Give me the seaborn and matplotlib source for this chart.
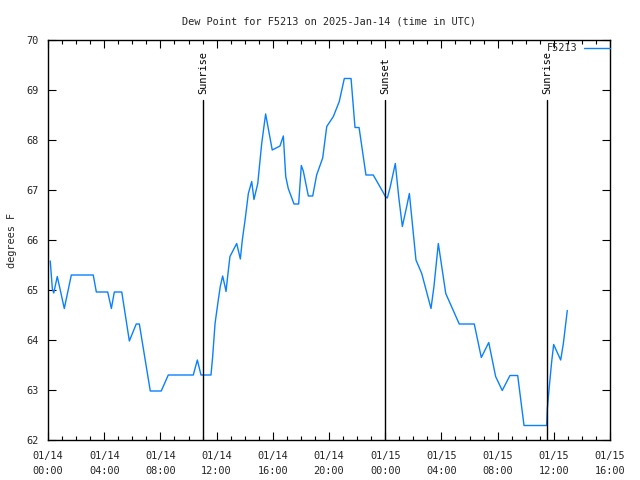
import matplotlib
matplotlib.use("Agg")
import matplotlib.pyplot as plt
import seaborn as sns
import pandas as pd

# hours since 2025-01-14 00:00 UTC
hours = [0.16, 0.31, 0.41, 0.66, 1.16, 1.66, 3.22, 3.44, 4.25, 4.51, 4.72, 5.25,
         5.79, 6.28, 6.50, 7.28, 8.06, 8.56, 10.34, 10.63, 10.89, 11.60, 11.72,
         11.89, 12.12, 12.26, 12.43, 12.60, 12.67, 12.81, 12.95, 13.43, 13.69,
         13.83, 14.04, 14.26, 14.50, 14.66, 14.93, 15.21, 15.49, 15.96, 16.51,
         16.75, 16.92, 17.10, 17.51, 17.84, 18.03, 18.17, 18.53, 18.84, 19.12,
         19.55, 19.84, 20.31, 20.73, 21.09, 21.57, 21.85, 22.14, 22.63, 23.15,
         23.82, 24.01, 24.15, 24.34, 24.72, 24.96, 25.22, 25.53, 25.72, 26.19,
         26.60, 27.26, 27.47, 27.78, 28.31, 29.27, 30.34, 30.84, 31.37, 31.86,
         32.33, 32.88, 33.43, 33.88, 35.49, 35.54, 35.68, 35.85, 35.99, 36.49,
         36.68, 36.96]
dewpoint = [65.58, 65.02, 64.94, 65.27, 64.63, 65.30, 65.30, 64.96, 64.96, 64.63,
            64.96, 64.96, 63.98, 64.32, 64.32, 62.98, 62.98, 63.30, 63.30, 63.60,
            63.30, 63.30, 63.67, 64.33, 64.80, 65.07, 65.28, 65.07, 64.97, 65.33,
            65.67, 65.93, 65.62, 66.00, 66.43, 66.93, 67.17, 66.81, 67.13, 67.93,
            68.52, 67.80, 67.88, 68.08, 67.27, 67.03, 66.72, 66.72, 67.49, 67.38,
            66.88, 66.88, 67.30, 67.64, 68.27, 68.47, 68.77, 69.23, 69.23, 68.25,
            68.25, 67.30, 67.30, 66.97, 66.87, 66.84, 67.04, 67.53, 66.87, 66.27,
            66.67, 66.93, 65.60, 65.33, 64.63, 65.07, 65.93, 64.93, 64.32, 64.32,
            63.65, 63.95, 63.27, 62.99, 63.29, 63.29, 62.29, 62.29, 62.63, 63.07,
            63.57, 63.91, 63.60, 63.93, 64.59]

events = ["Sunrise", "Sunset", "Sunrise"]
event_hours = [11.03, 23.99, 35.52]

xtick_hours = [0, 4, 8, 12, 16, 20, 24, 28, 32, 36, 40]
xtick_labels = ["01/14\n00:00", "01/14\n04:00", "01/14\n08:00", "01/14\n12:00",
                "01/14\n16:00", "01/14\n20:00", "01/15\n00:00", "01/15\n04:00",
                "01/15\n08:00", "01/15\n12:00", "01/15\n16:00"]
ytick_values = [62, 63, 64, 65, 66, 67, 68, 69, 70]

df = pd.DataFrame({"hours": hours, "dewpoint": dewpoint})

sns.set_style("ticks")
plt.rcParams['font.family'] = ['DejaVu Sans Mono']
FS = 7.4

fig = plt.figure(figsize=(6.4, 4.8), dpi=100)
ax = fig.add_axes([48/640, 40/480, 562/640, 400/480])

sns.lineplot(data=df, x="hours", y="dewpoint", ax=ax, color="#0a80ff",
             linewidth=1.0, label="F5213", legend=False)

ax.set_xlim(0, 40)
ax.set_ylim(62, 70)

for name, h in zip(events, event_hours):
    ax.plot([h, h], [62, 68.8], color="black", linewidth=1.0)
    ax.text(h, 68.92, name, rotation=90, ha="center", va="bottom",
            fontsize=FS, color="black")

ax.set_xticks(xtick_hours)
ax.set_xticklabels(xtick_labels, fontsize=FS, linespacing=1.6)
ax.set_xticks(range(0, 41), minor=True)
ax.set_yticks(ytick_values)
ax.set_yticklabels([str(v) for v in ytick_values], fontsize=FS)
ax.tick_params(which="both", direction="in", top=True, right=True,
               width=0.8, color="black")
ax.tick_params(axis="x", which="major", pad=8)
ax.tick_params(axis="y", which="major", pad=7)
ax.tick_params(which="major", length=6)
ax.tick_params(which="minor", length=3)
for s in ax.spines.values():
    s.set_linewidth(1.0)
    s.set_color("black")
    s.set_visible(True)

ax.set_xlabel("")
ax.set_ylabel("degrees F", fontsize=FS)
ax.yaxis.set_label_coords(-0.055, 0.5)
ax.set_title("Dew Point for F5213 on 2025-Jan-14 (time in UTC)", fontsize=FS, pad=11)

# legend (gnuplot style: text then line sample)
fig.text(578/640, 1 - 48/480, "F5213", ha="right", va="center", fontsize=FS)
fig.add_artist(plt.Line2D([584/640, 610/640], [1 - 48/480, 1 - 48/480],
                          color="#0a80ff", linewidth=1.0))

fig.savefig("out.png", dpi=100)
